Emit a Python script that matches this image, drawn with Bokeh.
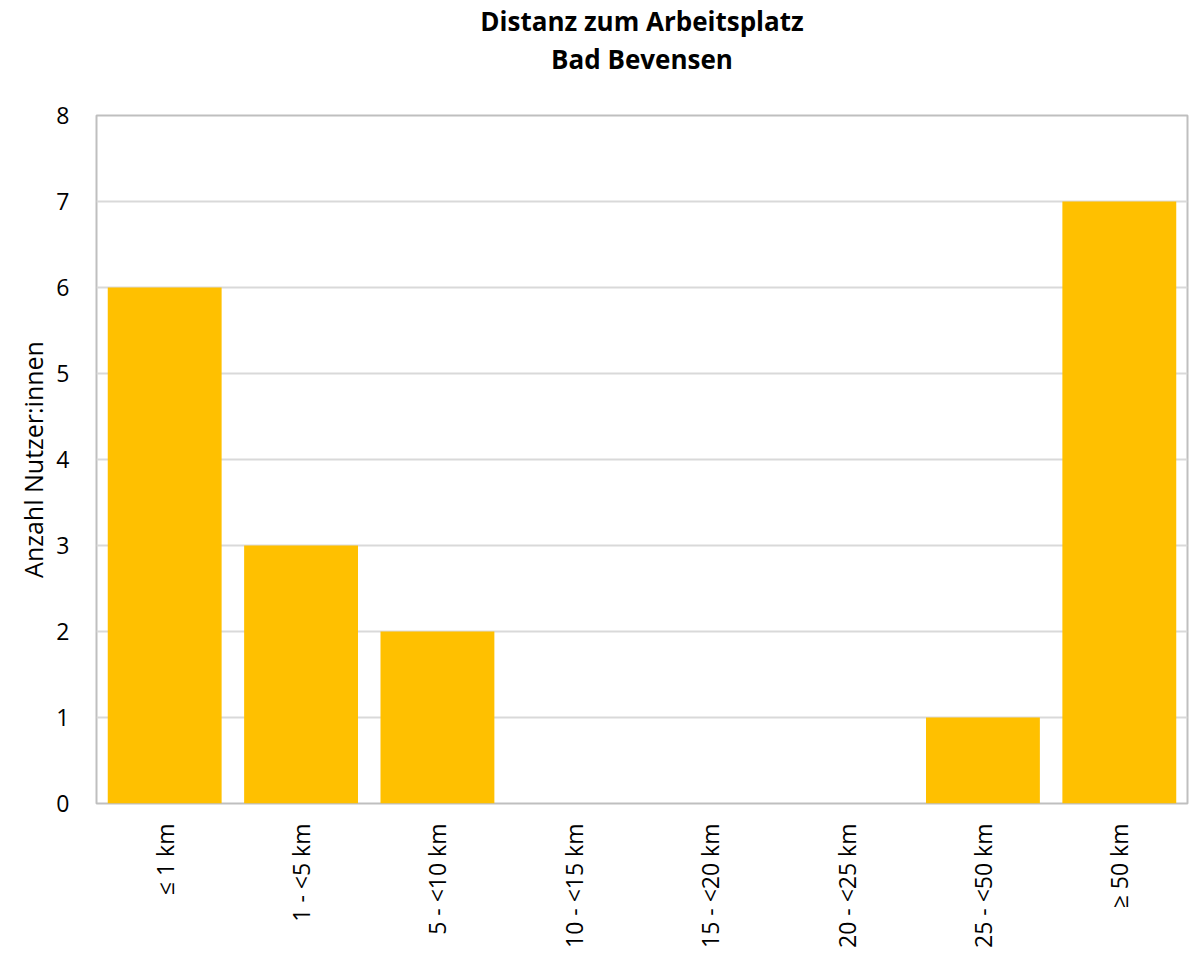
from bokeh.plotting import figure
from bokeh.models import FactorRange, Range1d, FixedTicker, ColumnDataSource, Title
from bokeh.embed import file_html
from bokeh.resources import INLINE

categories = ["≤ 1 km", "1 - <5 km", "5 - <10 km", "10 - <15 km",
              "15 - <20 km", "20 - <25 km", "25 - <50 km", "≥ 50 km"]
counts = [6, 3, 2, 0, 0, 0, 1, 7]
y_ticks = [0, 1, 2, 3, 4, 5, 6, 7, 8]
title_lines = ["Distanz zum Arbeitsplatz", "Bad Bevensen"]

FONT = "Open Sans"

source = ColumnDataSource(data=dict(cat=categories, n=counts))

p = figure(
    width=1196, height=957,
    x_range=FactorRange(*categories, range_padding=0),
    y_range=Range1d(0, 8),
    output_backend="svg", toolbar_location=None,
)
p.title = None

p.vbar(x="cat", top="n", width=0.835, source=source,
       fill_color="#FFC000", line_color=None)

p.min_border_left = 96
p.min_border_right = 9
p.min_border_top = 115
p.min_border_bottom = 154

# gap between the title block and the frame
p.add_layout(Title(text=" ", text_font_size="1px", standoff=36), "above")
# two-line bold title (panels stack upward from the frame)
for line in reversed(title_lines):
    p.add_layout(Title(text=line, align="center", text_font=FONT,
                       text_font_size="26px", text_font_style="bold",
                       text_color="#000000", standoff=0), "above")

p.outline_line_color = "#BFBFBF"
p.outline_line_width = 2
p.background_fill_color = "white"
p.border_fill_color = "white"

p.xgrid.grid_line_color = None
p.ygrid.grid_line_color = "#D9D9D9"
p.ygrid.grid_line_width = 2

p.yaxis.ticker = FixedTicker(ticks=y_ticks)
p.yaxis.axis_label = "Anzahl Nutzer:innen"
p.yaxis.axis_label_text_font = FONT
p.yaxis.axis_label_text_font_size = "25px"
p.yaxis.axis_label_text_font_style = "normal"
p.yaxis.axis_label_text_color = "#000000"
p.yaxis.axis_label_standoff = 3

for ax in (p.xaxis, p.yaxis):
    ax.axis_line_color = None
    ax.major_tick_line_color = None
    ax.minor_tick_line_color = None
    ax.major_label_text_font = FONT
    ax.major_label_text_font_size = "23px"
    ax.major_label_text_color = "#000000"

p.yaxis.major_label_standoff = 21
p.xaxis.major_label_orientation = 1.5707963
p.xaxis.major_label_standoff = 14

open("out.html", "w").write(file_html(p, INLINE))
